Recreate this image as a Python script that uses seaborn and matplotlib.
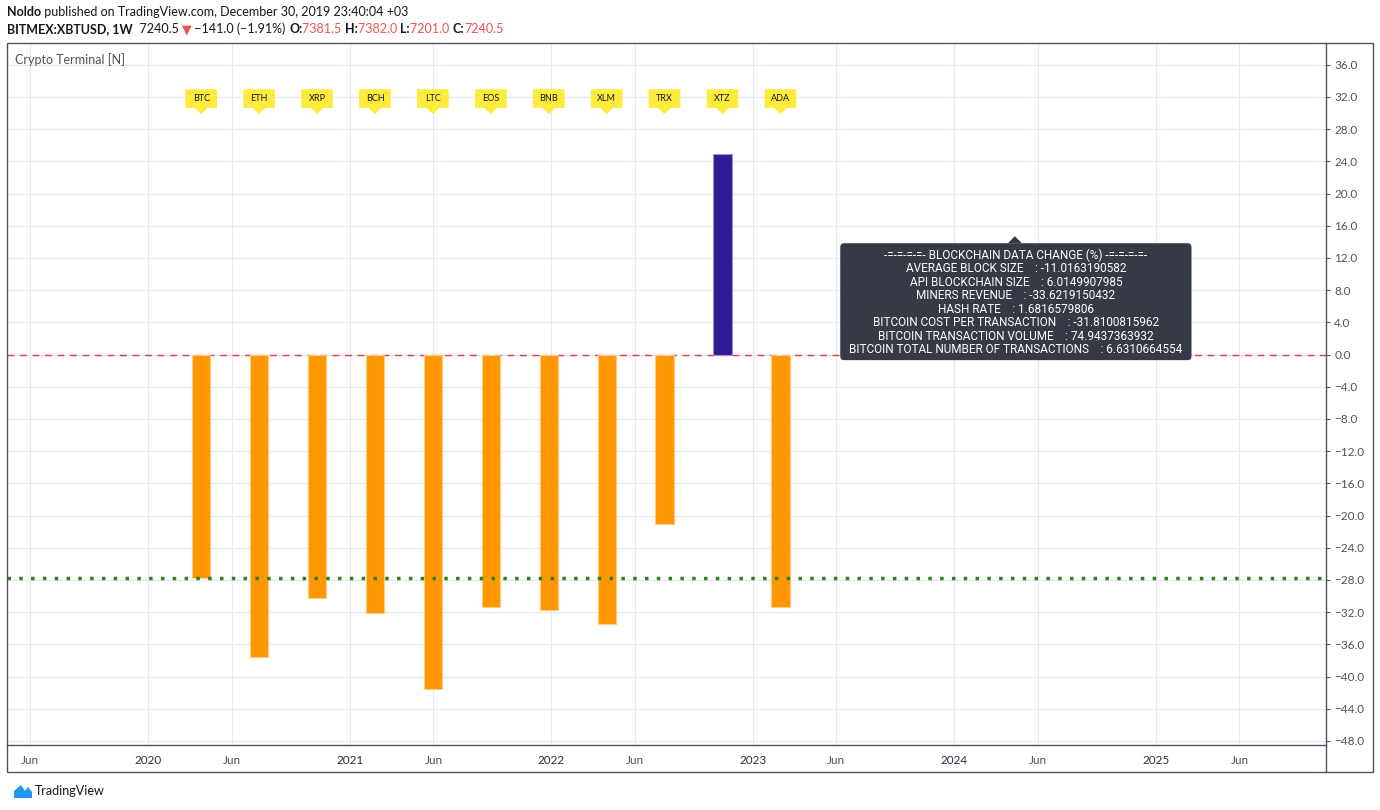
import matplotlib
matplotlib.use("Agg")
import matplotlib.pyplot as plt
import matplotlib.dates as mdates
import matplotlib.ticker as mticker
from matplotlib import font_manager
from matplotlib.lines import Line2D
from matplotlib.patches import Rectangle, Polygon, FancyBboxPatch
from matplotlib.transforms import IdentityTransform
import pandas as pd
import seaborn as sns

# --- datos ---
coins = ["BTC", "ETH", "XRP", "BCH", "LTC", "EOS", "BNB", "XLM", "TRX", "XTZ", "ADA"]
bar_dates = ["2020-04-06", "2020-07-20", "2020-11-02", "2021-02-15", "2021-05-31",
             "2021-09-13", "2021-12-27", "2022-04-11", "2022-07-25", "2022-11-07",
             "2023-02-20"]
changes = [-27.7, -37.6, -30.2, -32.1, -41.5, -31.3, -31.7, -33.5, -21.1, 24.9, -31.4]
btc_level = -27.7     # linea verde punteada
label_price = 30.0    # precio donde apuntan las etiquetas amarillas

tooltip_date = "2024-04-20"
tooltip_price = 14.7
tooltip_lines = [
    "-=-=-=-=- BLOCKCHAIN DATA CHANGE (%) -=-=-=-=-",
    "AVERAGE BLOCK SIZE    : -11.0163190582",
    "API BLOCKCHAIN SIZE    : 6.0149907985",
    "MINERS REVENUE    : -33.6219150432",
    "HASH RATE    : 1.6816579806",
    "BITCOIN COST PER TRANSACTION    : -31.8100815962",
    "BITCOIN TRANSACTION VOLUME    : 74.9437363932",
    "BITCOIN TOTAL NUMBER OF TRANSACTIONS    : 6.6310664554",
]

header_1 = [("Noldo", "bold", "#131722"),
            (" published on TradingView.com, December 30, 2019 23:40:04 +03", "normal", "#131722")]
header_2 = [("BITMEX:XBTUSD, 1W", "bold", "#131722"), ("  7240.5 ", "normal", "#131722"),
            ("\u25bc", "normal", "#ef5350"), (" \u2212141.0 (\u22121.91%) ", "normal", "#131722"),
            ("O:", "bold", "#131722"), ("7381.5 ", "normal", "#ef5350"),
            ("H:", "bold", "#131722"), ("7382.0 ", "normal", "#ef5350"),
            ("L:", "bold", "#131722"), ("7201.0 ", "normal", "#ef5350"),
            ("C:", "bold", "#131722"), ("7240.5", "normal", "#ef5350")]

# --- estilo ---
sns.set_style("white")
plt.rcParams["font.family"] = ["Lato", "DejaVu Sans"]
installed = {f.name for f in font_manager.fontManager.ttflist}
narrow = "Liberation Sans Narrow" if "Liberation Sans Narrow" in installed else "Roboto"

W, H = 1380, 810
fig = plt.figure(figsize=(W / 100, H / 100), dpi=100)
ax = fig.add_axes([7 / W, 1 - 745 / H, (1326 - 7) / W, (745 - 43) / H])

df = pd.DataFrame({"coin": coins,
                   "date": mdates.date2num(pd.to_datetime(bar_dates)),
                   "change": changes})
palette = {c: ("#311b92" if v > 0 else "#ff9800") for c, v in zip(coins, changes)}

sns.barplot(data=df, x="date", y="change", hue="coin", palette=palette,
            native_scale=True, width=0.315, errorbar=None, legend=False, ax=ax,
            linewidth=0.8, saturation=1)
for p in ax.patches:
    p.set_edgecolor("#ffcc80" if p.get_height() < 0 else "#9c8fd0")
    p.set_zorder(3)

ax.axhline(0, color="#f23645", lw=1, linestyle=(0, (5, 4)), zorder=2)
ax.axhline(btc_level, color="#2e7d1f", lw=2.5, linestyle=(0, (1, 2.4)), zorder=4)

# ejes
ax.set_xlim(mdates.date2num(pd.Timestamp("2019-04-20")), mdates.date2num(pd.Timestamp("2025-11-05")))
ax.set_ylim(-48.5, 38.7)
ax.set_xlabel("")
ax.set_ylabel("")

ax.xaxis.set_major_locator(mdates.MonthLocator(bymonth=[1, 6]))
ax.xaxis.set_major_formatter(mticker.FuncFormatter(
    lambda v, p: str(mdates.num2date(v).year) if mdates.num2date(v).month == 1 else "Jun"))
ax.yaxis.tick_right()
ax.yaxis.set_major_locator(mticker.MultipleLocator(4))
ax.yaxis.set_major_formatter(mticker.FuncFormatter(lambda v, p: f"{v:.1f}".replace("-", "\u2212")))
ax.tick_params(axis="x", length=3, width=0.8, color="#50535e", pad=4, labelsize=8.5, labelcolor="#4c525e")
ax.tick_params(axis="y", length=3, width=0.8, color="#50535e", pad=3, labelsize=8.5, labelcolor="#4c525e")
for lab in ax.get_xticklabels():
    if lab.get_text() != "Jun":
        lab.set_color("#2a2e39")
ax.grid(True, color="#e1ecf2", lw=1)
ax.set_axisbelow(True)

for side in ["left", "top"]:
    ax.spines[side].set_visible(False)
for side in ["right", "bottom"]:
    ax.spines[side].set_color("#50535e")
    ax.spines[side].set_linewidth(1)

fig.add_artist(Rectangle((7 / W, 1 - 772 / H), (1373 - 7) / W, (772 - 43) / H,
                         transform=fig.transFigure, fill=False, ec="#50535e", lw=1))
fig.add_artist(Line2D([1326 / W, 1326 / W], [1 - 772 / H, 1 - 745 / H],
                      transform=fig.transFigure, color="#50535e", lw=1))

# etiquetas amarillas
for coin, d in zip(coins, df["date"]):
    px, py = ax.transData.transform((d, label_price))
    shape = [(px, py), (px + 6, py + 6), (px + 15, py + 6), (px + 15, py + 23),
             (px - 15, py + 23), (px - 15, py + 6), (px - 6, py + 6)]
    ax.add_patch(Polygon(shape, closed=True, transform=IdentityTransform(),
                         fc="#ffeb3b", ec="#ffeb3b", lw=1.2, joinstyle="round", zorder=5))
    ax.text(px, py + 14.5, coin, transform=IdentityTransform(), ha="center", va="center",
            fontsize=6.5, color="#131722", zorder=6)

# recuadro de datos
renderer = fig.canvas.get_renderer()
tx, ty = ax.transData.transform((mdates.date2num(pd.Timestamp(tooltip_date)), tooltip_price))
top = ty - 7
t = ax.text(tx + 1, top - 5, "\n".join(tooltip_lines), transform=IdentityTransform(),
            ha="center", va="top", multialignment="center", color="white",
            fontsize=8.5, linespacing=1.05, family=narrow, zorder=7)
bb = t.get_window_extent(renderer)
ax.add_patch(FancyBboxPatch((bb.x0 - 9, bb.y0 - 4), bb.width + 18, top - bb.y0 + 4,
                            boxstyle="round,pad=0,rounding_size=4", transform=IdentityTransform(),
                            fc="#363a45", ec="none", zorder=6))
ax.add_patch(Polygon([(tx, ty), (tx - 7, top), (tx + 7, top)], closed=True,
                     transform=IdentityTransform(), fc="#363a45", ec="none", zorder=6))

ax.text(8 / 1319, 1 - 17 / 702, "Crypto Terminal [N]", transform=ax.transAxes,
        ha="left", va="center", fontsize=9, color="#4c525e")


# cabecera
def draw_pieces(img_y, pieces, size):
    x = 7
    for txt, weight, color in pieces:
        tt = fig.text(x / W, 1 - img_y / H, txt, fontsize=size, fontweight=weight,
                      color=color, ha="left", va="center")
        x += tt.get_window_extent(renderer).width


draw_pieces(12, header_1, 9)
draw_pieces(29, header_2, 9)

# logo TradingView
fig.add_artist(Polygon([(14 / W, 1 - 798 / H), (14 / W, 1 - 791 / H), (21 / W, 1 - 785 / H),
                        (25 / W, 1 - 791 / H), (28 / W, 1 - 787 / H), (32 / W, 1 - 792 / H),
                        (32 / W, 1 - 798 / H)], closed=True, transform=fig.transFigure,
                       fc="#2196f3", ec="none"))
fig.text(35 / W, 1 - 791 / H, "TradingView", fontsize=9, color="#131722", ha="left", va="center")

fig.savefig("out.png", dpi=100)
